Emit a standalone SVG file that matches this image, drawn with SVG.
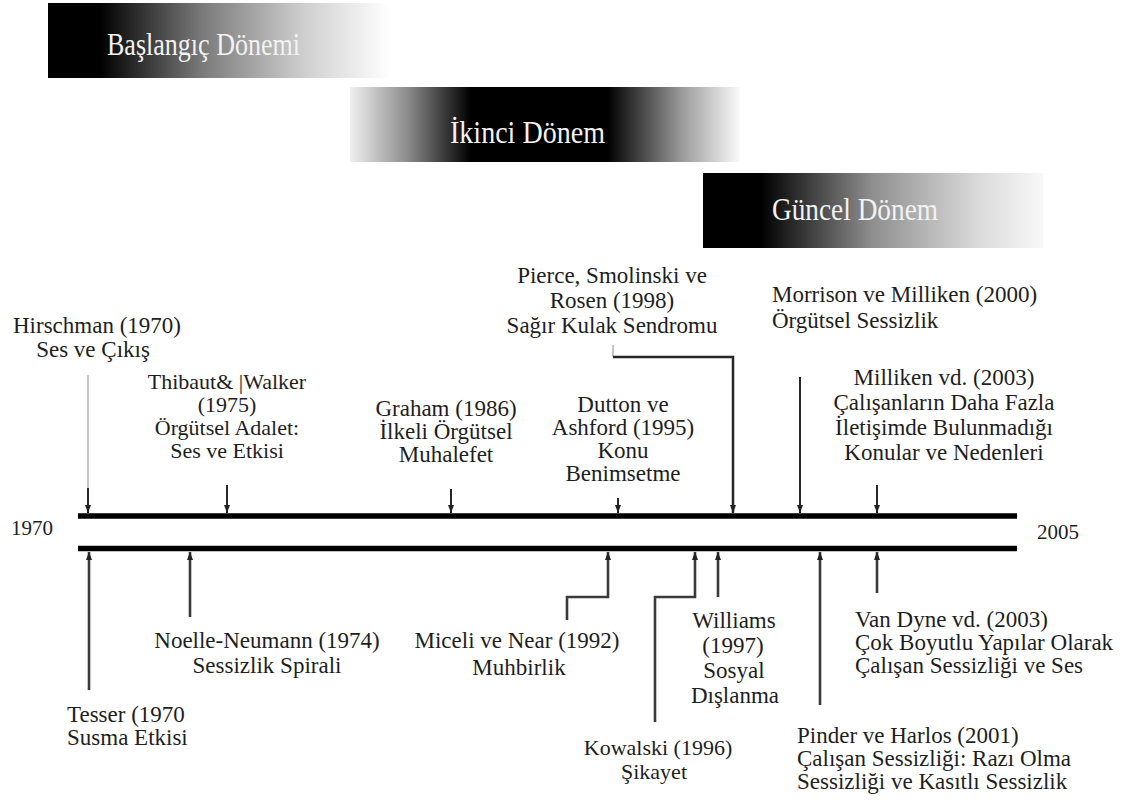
<svg xmlns="http://www.w3.org/2000/svg" width="1135" height="800" viewBox="0 0 1135 800">
  <defs>
    <linearGradient id="gStart" x1="0" y1="0" x2="1" y2="0">
      <stop offset="0" stop-color="#000"/>
      <stop offset="0.15" stop-color="#000"/>
      <stop offset="0.45" stop-color="#7a7a7a"/>
      <stop offset="0.75" stop-color="#cfcfcf"/>
      <stop offset="1" stop-color="#fff"/>
    </linearGradient>
    <linearGradient id="gMid" x1="0" y1="0" x2="1" y2="0">
      <stop offset="0" stop-color="#f0f0f0"/>
      <stop offset="0.15" stop-color="#8a8a8a"/>
      <stop offset="0.31" stop-color="#000"/>
      <stop offset="0.66" stop-color="#000"/>
      <stop offset="0.85" stop-color="#9a9a9a"/>
      <stop offset="1" stop-color="#fafafa"/>
    </linearGradient>
    <linearGradient id="gNow" x1="0" y1="0" x2="1" y2="0">
      <stop offset="0" stop-color="#000"/>
      <stop offset="0.17" stop-color="#000"/>
      <stop offset="0.5" stop-color="#8f8f8f"/>
      <stop offset="0.8" stop-color="#d8d8d8"/>
      <stop offset="1" stop-color="#f8f8f8"/>
    </linearGradient>
    <marker id="head" markerUnits="userSpaceOnUse" markerWidth="8" markerHeight="8" viewBox="0 0 8 8" refX="8" refY="4" orient="auto">
      <path d="M0,1 L8,4 L0,7 z" fill="#222"/>
    </marker>
  </defs>
  <style>
    text { font-family: "Liberation Serif", "Times New Roman", serif; font-size: 23px; fill: #1e1e1e; }
    .c { text-anchor: middle; }
    .s { font-size: 22px; }
    .band { font-size: 31px; fill: #f2f2f2; }
    .year { font-size: 21px; }
    .axis { stroke: #000; stroke-width: 5.5; }
    .tick { fill: none; stroke: #262626; stroke-width: 2; marker-end: url(#head); }
    .rise { fill: none; stroke: #3a3a3a; stroke-width: 2.6; marker-end: url(#head); }
    .faint { stroke: #8a8a8a; stroke-width: 1; }
  </style>
  <rect width="1135" height="800" fill="#fff"/>

  <!-- period banners -->
  <g id="period-start">
    <rect x="48" y="3" width="342" height="75" fill="url(#gStart)"/>
    <text class="band" x="107" y="55" textLength="193" lengthAdjust="spacingAndGlyphs">Başlangıç Dönemi</text>
  </g>
  <g id="period-second">
    <rect x="350" y="87" width="390" height="75" fill="url(#gMid)"/>
    <text class="band" x="450" y="143" textLength="155" lengthAdjust="spacingAndGlyphs">İkinci Dönem</text>
  </g>
  <g id="period-current">
    <rect x="703" y="173" width="340" height="75" fill="url(#gNow)"/>
    <text class="band" x="772" y="220" textLength="166" lengthAdjust="spacingAndGlyphs">Güncel Dönem</text>
  </g>

  <!-- timeline axis -->
  <g id="timeline">
    <line class="axis" x1="78" y1="516" x2="1017" y2="516"/>
    <line class="axis" x1="78" y1="548.5" x2="1017" y2="548.5"/>
    <text class="year" x="11" y="535">1970</text>
    <text class="year" x="1037" y="539">2005</text>
  </g>

  <!-- events above the axis -->
  <g id="hirschman">
    <text class="c" x="97" y="333">Hirschman (1970)</text>
    <text class="c" x="93" y="357">Ses ve Çıkış</text>
  </g>
  <g id="thibaut-walker" class="s">
    <text class="c s" x="227" y="389">Thibaut&amp; |Walker</text>
    <text class="c s" x="227" y="412">(1975)</text>
    <text class="c s" x="227" y="435">Örgütsel Adalet:</text>
    <text class="c s" x="227" y="458">Ses ve Etkisi</text>
  </g>
  <g id="graham">
    <text class="c" x="446" y="416">Graham (1986)</text>
    <text class="c" x="446" y="439">İlkeli Örgütsel</text>
    <text class="c" x="446" y="462">Muhalefet</text>
  </g>
  <g id="dutton-ashford">
    <text class="c" x="623" y="412">Dutton ve</text>
    <text class="c" x="623" y="435">Ashford (1995)</text>
    <text class="c" x="623" y="458">Konu</text>
    <text class="c" x="623" y="481">Benimsetme</text>
  </g>
  <g id="pierce">
    <text class="c" x="612" y="283">Pierce, Smolinski ve</text>
    <text class="c" x="612" y="308">Rosen (1998)</text>
    <text class="c" x="612" y="333">Sağır Kulak Sendromu</text>
  </g>
  <g id="morrison-milliken">
    <text x="772" y="302">Morrison ve Milliken (2000)</text>
    <text x="772" y="328">Örgütsel Sessizlik</text>
  </g>
  <g id="milliken">
    <text class="c" x="944" y="385">Milliken vd. (2003)</text>
    <text class="c" x="944" y="410">Çalışanların Daha Fazla</text>
    <text class="c" x="944" y="435">İletişimde Bulunmadığı</text>
    <text class="c" x="944" y="460">Konular ve Nedenleri</text>
  </g>

  <!-- events below the axis -->
  <g id="tesser">
    <text x="67" y="722">Tesser (1970</text>
    <text x="67" y="745">Susma Etkisi</text>
  </g>
  <g id="noelle-neumann">
    <text class="c" x="267" y="648">Noelle-Neumann (1974)</text>
    <text class="c" x="267" y="673">Sessizlik Spirali</text>
  </g>
  <g id="miceli-near">
    <text class="c" x="517" y="648">Miceli ve Near (1992)</text>
    <text class="c" x="519" y="675">Muhbirlik</text>
  </g>
  <g id="kowalski">
    <text class="c s" x="658" y="755">Kowalski (1996)</text>
    <text class="c s" x="654" y="779">Şikayet</text>
  </g>
  <g id="williams">
    <text class="c" x="734" y="628">Williams</text>
    <text class="c" x="733" y="653">(1997)</text>
    <text class="c" x="734" y="678">Sosyal</text>
    <text class="c" x="735" y="703">Dışlanma</text>
  </g>
  <g id="van-dyne">
    <text x="855" y="627">Van Dyne vd. (2003)</text>
    <text x="855" y="650">Çok Boyutlu Yapılar Olarak</text>
    <text x="855" y="673">Çalışan Sessizliği ve Ses</text>
  </g>
  <g id="pinder-harlos">
    <text x="797" y="743">Pinder ve Harlos (2001)</text>
    <text x="797" y="766">Çalışan Sessizliği: Razı Olma</text>
    <text x="797" y="789">Sessizliği ve Kasıtlı Sessizlik</text>
  </g>

  <!-- connectors -->
  <g id="connectors">
    <line class="faint" x1="88" y1="375" x2="88" y2="490"/>
    <path class="tick" d="M88,488 V513"/>
    <path class="tick" d="M227,485 V513"/>
    <path class="tick" d="M451,489 V513"/>
    <path class="tick" d="M618,498 V513"/>
    <line class="faint" x1="613" y1="345" x2="613" y2="357"/>
    <path class="tick" style="stroke-width:2.5" d="M613,357 H733 V513"/>
    <path class="tick" d="M800,377 V513"/>
    <path class="tick" d="M877,485 V513"/>

    <path class="rise" d="M89,690 V552"/>
    <path class="rise" d="M190,617 V552"/>
    <path class="rise" d="M567,620 V597 H608 V552"/>
    <path class="rise" d="M655,722 V597 H695 V552"/>
    <path class="rise" d="M718,597 V552"/>
    <path class="rise" d="M877,593 V552"/>
    <path class="rise" d="M820,705 V552"/>
  </g>
</svg>
